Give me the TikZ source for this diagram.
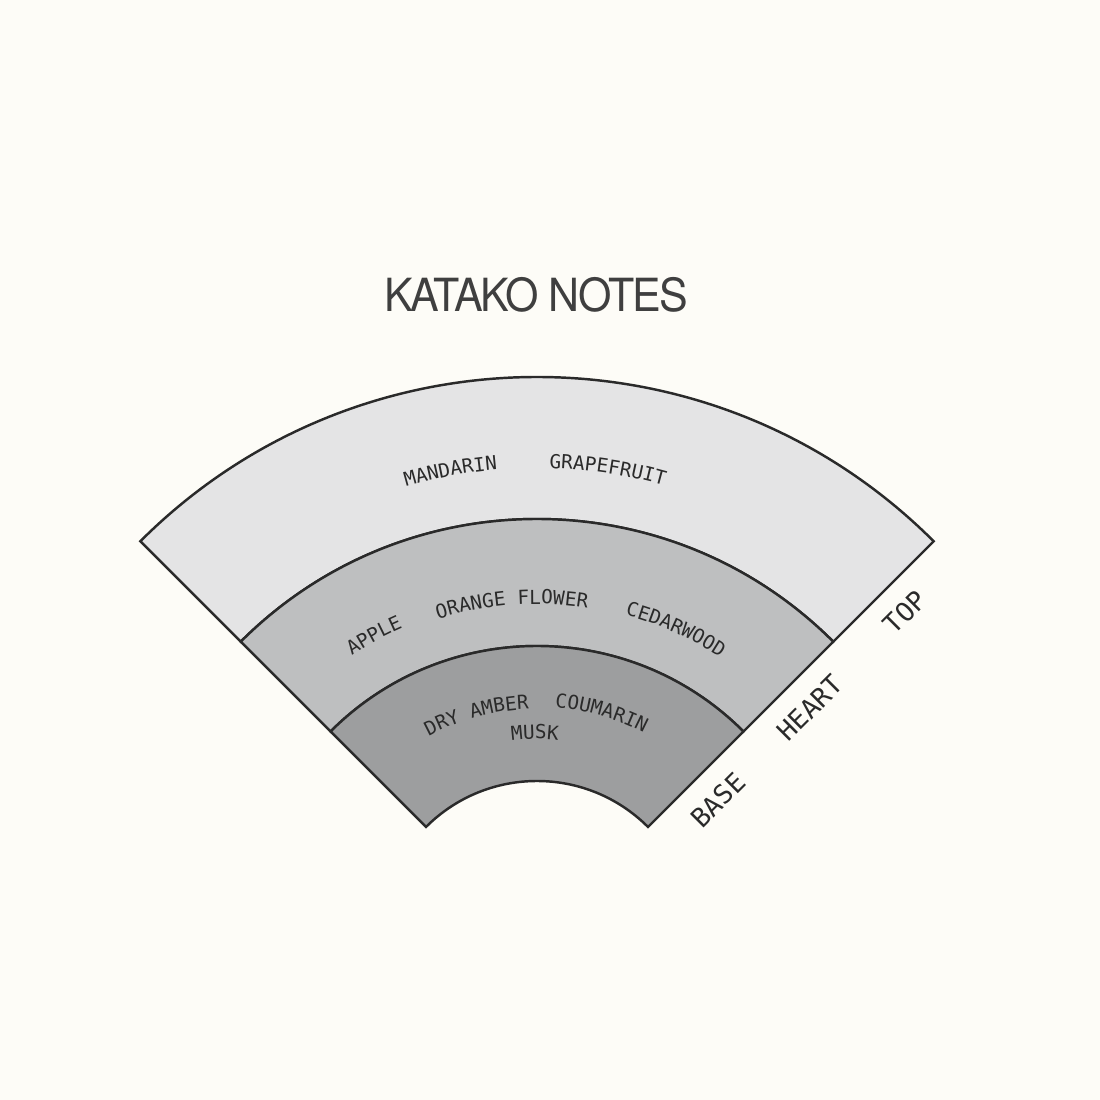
\documentclass[tikz,border=0pt]{standalone}
\usepackage{fontspec}
\setmainfont{TeX Gyre Heros}
\newfontfamily\titlefont[FakeStretch=0.94, LetterSpace=-4]{TeX Gyre Heros}
\newfontfamily\monofont{DejaVu Sans Mono}
\usetikzlibrary{decorations.text}

\definecolor{paper}{HTML}{FDFCF7}
\definecolor{topband}{HTML}{E4E4E5}
\definecolor{heartband}{HTML}{BEBFC0}
\definecolor{baseband}{HTML}{9D9E9F}
\definecolor{ink}{HTML}{2A2A2A}
\newcommand\notefont{\monofont\fontsize{11}{13}\selectfont}

\begin{document}
\begin{tikzpicture}[x=0.2mm, y=0.2mm,
    band/.style={draw=ink, line width=1.4pt, line join=miter},
    note/.style={decorate, decoration={text along path, text align=center, text color=ink, text={|\notefont|#1}}},
    layer/.style={font=\monofont\fontsize{15}{17}\selectfont, text=ink, rotate=45}
]
    \fill[paper] (0,0) rectangle (1100,1100);
    \useasboundingbox (0,0) rectangle (1100,1100);

    % Title
    \node [font=\titlefont\fontsize{26}{30}\selectfont, text=ink!90] (title) at (536,805) {KATAKO NOTES};

    \begin{scope}[shift={(537,162)}]
    % Bands
    \filldraw [band, fill=topband] (45:561) arc[start angle=45, end angle=135, radius=561] -- (135:419) arc[start angle=135, end angle=45, radius=419] -- cycle;
    \filldraw [band, fill=heartband] (45:419) arc[start angle=45, end angle=135, radius=419] -- (135:292) arc[start angle=135, end angle=45, radius=292] -- cycle;
    \filldraw [band, fill=baseband] (45:292) arc[start angle=45, end angle=135, radius=292] -- (135:157) arc[start angle=135, end angle=45, radius=157] -- cycle;

    % Top notes
    \path [note=MANDARIN] (120.5:470) arc[start angle=120.5, end angle=80.5, radius=470];
    \path [note=GRAPEFRUIT] (101.4:470) arc[start angle=101.4, end angle=61.4, radius=470];

    % Heart notes
    \path [note=APPLE] (138.3:338) arc[start angle=138.3, end angle=98.3, radius=338];
    \path [note=ORANGE FLOWER] (119.3:334) arc[start angle=119.3, end angle=69.3, radius=334];
    \path [note=CEDARWOOD] (85.8:335) arc[start angle=85.8, end angle=45.8, radius=335];

    % Base notes
    \path [note=DRY AMBER] (130.1:229) arc[start angle=130.1, end angle=80.1, radius=229];
    \path [note=COUMARIN] (99:231) arc[start angle=99, end angle=49, radius=231];
    \path [note=MUSK] (115.6:199) arc[start angle=115.6, end angle=65.6, radius=199];
    \end{scope}

    % Layer labels
    \node [layer] (top) at (905,488) {TOP};
    \node [layer] (heart) at (810,392) {HEART};
    \node [layer] (base) at (718,300) {BASE};
\end{tikzpicture}
\end{document}
